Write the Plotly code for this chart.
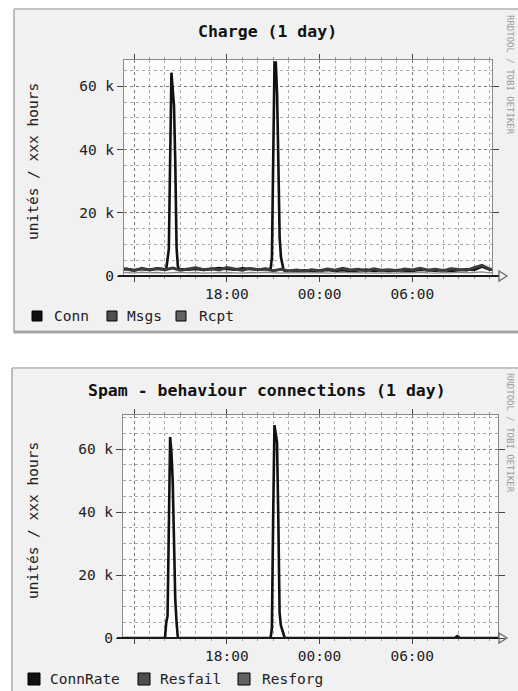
import plotly.graph_objects as go
import pandas as pd

W, H = 518, 691
BASE = pd.Timestamp("2007-03-14")
FONT = "DejaVu Sans Mono"

# ---------------- data (values in thousands) ----------------
# Chart 1 : Charge (1 day)   -- times in minutes from 2007-03-14 00:00
conn1_min = [660, 690, 720, 750, 780, 810, 840, 845, 855, 860, 865, 870, 875, 880, 885, 890, 895,
             930, 960, 990, 1020, 1050, 1080, 1110, 1140, 1170, 1200, 1230, 1250,
             1255, 1260, 1265, 1270, 1275, 1280, 1285, 1290, 1295, 1300, 1305,
             1350, 1380, 1410, 1440, 1470, 1500, 1530, 1560, 1590, 1620, 1650, 1680, 1710,
             1740, 1770, 1800, 1830, 1860, 1890, 1920, 1950, 1980, 2010, 2040, 2070, 2100, 2130]
conn1_k = [2.1, 2.3, 1.9, 2.2, 2.0, 2.4, 2.1, 2.2, 8.5, 36, 64.3, 59, 54, 36, 9, 3, 2.2,
           2.0, 2.2, 1.9, 2.3, 2.5, 2.2, 2.0, 2.4, 2.1, 2.0, 2.3, 2.1,
           6, 36, 67.5, 67.5, 57.5, 36, 12, 6, 4, 2, 1.7,
           1.6, 1.8, 1.5, 1.7, 1.9, 1.6, 1.8, 1.5, 1.7, 2.0, 1.6, 1.8, 1.5,
           1.9, 1.7, 1.6, 2.0, 1.8, 1.7, 1.9, 1.6, 1.8, 2.1, 1.9, 3.0, 2.0, 2.2]
# half-hourly samples from 11:00 (day 1) to 11:30 (day 2)
msgs1_k = [1.8, 2.2, 1.7, 2.4, 1.9, 2.3, 2.0, 2.5, 1.8, 2.1,
           2.6, 2.0, 2.3, 1.9, 2.7, 2.2, 1.8, 2.4, 2.0, 2.2,
           1.7, 2.1, 1.6, 1.9, 1.5, 2.0, 1.7, 2.2, 1.8, 2.4,
           1.9, 2.1, 1.6, 2.3, 1.8, 2.0, 1.7, 2.2, 1.9, 2.4,
           1.8, 2.1, 1.7, 2.3, 2.0, 1.8, 2.6, 3.4, 2.2, 2.1]
rcpt1_k = [1.0, 1.1, 0.9, 1.2, 1.0, 1.1, 0.9, 1.0, 1.2, 1.0,
           1.1, 0.9, 1.0, 1.2, 1.1, 1.0, 0.9, 1.1, 1.0, 1.2,
           1.0, 0.9, 1.1, 1.0, 0.9, 1.0, 1.1, 0.9, 1.0, 1.2,
           1.0, 1.1, 0.9, 1.0, 1.1, 1.0, 0.9, 1.1, 1.0, 1.2,
           1.0, 0.9, 1.1, 1.0, 1.2, 1.0, 1.1, 1.3, 1.0, 1.1]

# Chart 2 : Spam - behaviour connections (1 day)
connrate2_min = [660, 840, 845, 850, 855, 860, 865, 870, 875, 880, 885, 890,
                 1250, 1255, 1260, 1265, 1270, 1275, 1280, 1285, 1290, 1295, 1300, 1305,
                 1965, 1975, 1985, 2150]
connrate2_k = [0, 0, 5, 7, 35, 63.8, 59, 50, 31, 12, 5, 0,
               0, 3, 38, 67.6, 65, 62, 38, 8, 4, 2.5, 1, 0,
               0, 0.6, 0, 0]
resfail2_k = [0.1, 0, 0.1, 0, 0, 0.1, 0, 0, 0.1, 0,
              0, 0.1, 0, 0, 0.1, 0, 0, 0, 0.1, 0,
              0, 0, 0.1, 0, 0, 0, 0, 0.1, 0, 0,
              0, 0.1, 0, 0, 0, 0, 0.1, 0, 0, 0,
              0.1, 0, 0, 0, 0.1, 0, 0, 0.1, 0, 0]
resforg2_k = [0, 0, 0, 0.1, 0, 0, 0, 0, 0, 0.1,
              0, 0, 0, 0, 0, 0, 0.1, 0, 0, 0,
              0, 0, 0, 0, 0.1, 0, 0, 0, 0, 0,
              0, 0, 0, 0.1, 0, 0, 0, 0, 0, 0,
              0, 0, 0.1, 0, 0, 0, 0, 0, 0, 0]

series1 = ["Conn", "Msgs", "Rcpt"]
series2 = ["ConnRate", "Resfail", "Resforg"]
colors = ["#111111", "#4e4e4e", "#626262"]
ytick_vals = [0, 20000, 40000, 60000]
ytick_text = ["0", "20 k", "40 k", "60 k"]
xtick_min = [720, 1080, 1440, 1800]
xtick_text = ["", "18:00", "00:00", "06:00"]
titles = ["Charge (1 day)", "Spam - behaviour connections (1 day)"]
ytitle = "unités / xxx hours"
credit = "RRDTOOL / TOBI OETIKER"


def t(minutes):
    return [BASE + pd.Timedelta(minutes=m) for m in minutes]


def half_hourly(n):
    return list(pd.date_range(BASE + pd.Timedelta(hours=11), periods=n, freq="30min"))


def k(vals):
    return [v * 1000 for v in vals]


def px(x):
    return x / W


def py(y):
    return 1 - y / H


fig = go.Figure()
# chart 1
fig.add_trace(go.Scatter(x=t(conn1_min), y=k(conn1_k), name=series1[0], mode="lines",
                         line=dict(color=colors[0], width=2.6), xaxis="x", yaxis="y"))
fig.add_trace(go.Scatter(x=half_hourly(len(msgs1_k)), y=k(msgs1_k), name=series1[1], mode="lines",
                         line=dict(color="#3c3c3c", width=3), xaxis="x", yaxis="y"))
fig.add_trace(go.Scatter(x=half_hourly(len(rcpt1_k)), y=k(rcpt1_k), name=series1[2], mode="lines",
                         line=dict(color="#8a8a8a", width=1.4), xaxis="x", yaxis="y"))
# chart 2
fig.add_trace(go.Scatter(x=t(connrate2_min), y=k(connrate2_k), name=series2[0], mode="lines",
                         line=dict(color=colors[0], width=2.6), xaxis="x2", yaxis="y2"))
fig.add_trace(go.Scatter(x=half_hourly(len(resfail2_k)), y=k(resfail2_k), name=series2[1], mode="lines",
                         line=dict(color=colors[1], width=1.5), xaxis="x2", yaxis="y2"))
fig.add_trace(go.Scatter(x=half_hourly(len(resforg2_k)), y=k(resforg2_k), name=series2[2], mode="lines",
                         line=dict(color=colors[2], width=1.5), xaxis="x2", yaxis="y2"))

# plot-area geometry (pixels)
areas = [dict(l=124, r=492, t=60, b=276, xr=(681, 2109), ymax=68300),
         dict(l=123, r=498, t=415, b=638, xr=(677, 2133), ymax=70800)]

tickfont = dict(family=FONT, size=14.5, color="#222222")
for i, a in enumerate(areas):
    sfx = "" if i == 0 else str(i + 1)
    fig.layout["xaxis" + sfx] = dict(
        domain=[px(a["l"]), px(a["r"])], anchor="y" + sfx, type="date",
        range=t(list(a["xr"])), tickmode="array", tickvals=t(xtick_min), ticktext=xtick_text,
        showgrid=True, gridcolor="#7a7a7a", griddash="dot", gridwidth=1,
        minor=dict(tickmode="linear", tick0=BASE, dtick=3600000, showgrid=True,
                   gridcolor="#ababab", griddash="dot", gridwidth=1,
                   ticks="outside", ticklen=2, tickcolor="#999999"),
        ticks="outside", ticklen=5, tickcolor="#444444", tickfont=tickfont,
        showline=True, linecolor="#8a8a8a", linewidth=1, mirror="ticks",
        zeroline=False, fixedrange=True, automargin=False)
    fig.layout["yaxis" + sfx] = dict(
        domain=[py(a["b"]), py(a["t"])], anchor="x" + sfx, range=[0, a["ymax"]],
        tickmode="array", tickvals=ytick_vals, ticktext=ytick_text,
        showgrid=True, gridcolor="#7a7a7a", griddash="dot", gridwidth=1,
        minor=dict(tickmode="linear", tick0=0, dtick=5000, showgrid=True,
                   gridcolor="#ababab", griddash="dot", gridwidth=1),
        ticks="outside", ticklen=6, tickcolor="#444444", tickfont=tickfont,
        showline=True, linecolor="#8a8a8a", linewidth=1, mirror="ticks",
        zeroline=False, fixedrange=True, automargin=False)

shapes = []
# panels
panels = [dict(l=14, t=9, b=333), dict(l=12, t=368, b=700)]
for p in panels:
    shapes.append(dict(type="rect", xref="paper", yref="paper", layer="below",
                       x0=px(p["l"]), x1=px(W + 5), y0=py(p["b"]), y1=py(p["t"]),
                       fillcolor="#f1f1f1", line=dict(width=0)))
    shapes.append(dict(type="line", xref="paper", yref="paper", layer="below",
                       x0=px(p["l"]), x1=px(W + 5), y0=py(p["t"]), y1=py(p["t"]),
                       line=dict(color="#c4c4c4", width=2)))
    shapes.append(dict(type="line", xref="paper", yref="paper", layer="below",
                       x0=px(p["l"]), x1=px(p["l"]), y0=py(p["b"]), y1=py(p["t"]),
                       line=dict(color="#bcbcbc", width=2)))
shapes.append(dict(type="line", xref="paper", yref="paper", layer="below",
                   x0=px(14), x1=px(W + 5), y0=py(332), y1=py(332),
                   line=dict(color="#a6a6a6", width=3)))
for a in areas:
    shapes.append(dict(type="rect", xref="paper", yref="paper", layer="below",
                       x0=px(a["l"]), x1=px(a["r"]), y0=py(a["b"]), y1=py(a["t"]),
                       fillcolor="#fcfcfc", line=dict(width=0)))
    # zero axis with open arrow
    shapes.append(dict(type="line", xref="paper", yref="paper", layer="above",
                       x0=px(a["l"] - 6), x1=px(499), y0=py(a["b"]), y1=py(a["b"]),
                       line=dict(color="#1a1a1a", width=2)))
    b = a["b"]
    shapes.append(dict(type="path", xref="paper", yref="paper", layer="above",
                       path=f"M {px(499)} {py(b - 5)} L {px(507)} {py(b)} L {px(499)} {py(b + 5)} Z",
                       fillcolor="rgba(0,0,0,0)", line=dict(color="#6a6a6a", width=1.3)))

annotations = []
# titles
for title, y in zip(titles, [32, 390]):
    annotations.append(dict(text=f"<b>{title}</b>", x=px(267), y=py(y), xref="paper", yref="paper",
                            xanchor="center", yanchor="middle", showarrow=False,
                            font=dict(family=FONT, size=16.5, color="#111111")))
# y titles
for y in [162, 521]:
    annotations.append(dict(text=ytitle, x=px(33), y=py(y), xref="paper", yref="paper",
                            xanchor="center", yanchor="middle", showarrow=False, textangle=-90,
                            font=dict(family=FONT, size=14.5, color="#222222")))
# credit text
for y in [75, 433]:
    annotations.append(dict(text=credit, x=px(510), y=py(y), xref="paper", yref="paper",
                            xanchor="center", yanchor="middle", showarrow=False, textangle=90,
                            font=dict(family=FONT, size=9, color="#9a9a9a")))

# legends
legends = [dict(names=series1, y=316, sq=[32, 107, 176], tx=[52, 125, 197], s=10),
           dict(names=series2, y=679, sq=[28, 138, 238], tx=[48, 158, 260], s=12)]
for lg in legends:
    for name, col, sx, tx in zip(lg["names"], colors, lg["sq"], lg["tx"]):
        s = lg["s"]
        shapes.append(dict(type="rect", xref="paper", yref="paper", layer="above",
                           x0=px(sx), x1=px(sx + s), y0=py(lg["y"] + s / 2), y1=py(lg["y"] - s / 2),
                           fillcolor=col, line=dict(color="#000000", width=1)))
        annotations.append(dict(text=name, x=px(tx), y=py(lg["y"]), xref="paper", yref="paper",
                                xanchor="left", yanchor="middle", showarrow=False,
                                font=dict(family=FONT, size=14.5, color="#222222")))

fig.update_layout(width=W, height=H, margin=dict(l=0, r=0, t=0, b=0, pad=0),
                  paper_bgcolor="#ffffff", plot_bgcolor="rgba(0,0,0,0)",
                  showlegend=False, hovermode=False,
                  shapes=shapes, annotations=annotations,
                  font=dict(family=FONT, size=14.5, color="#222222"))

fig.write_html("out.html", config={"displayModeBar": False, "staticPlot": True},
               post_script="document.body.style.margin='0';document.body.style.padding='0';"
                           "document.documentElement.style.overflow='hidden';")
